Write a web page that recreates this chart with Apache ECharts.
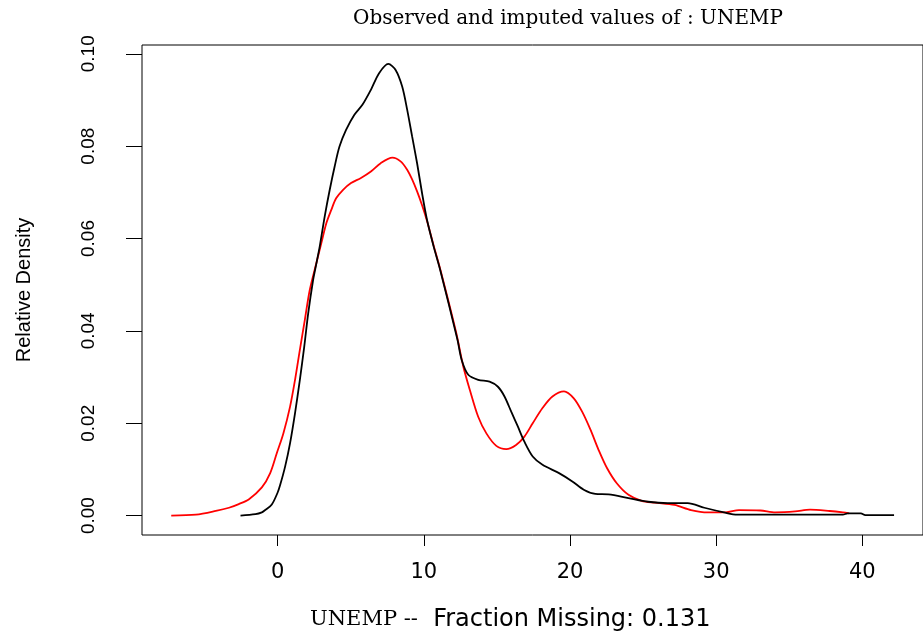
<!DOCTYPE html>
<html>
<head>
<meta charset="utf-8">
<script src="https://cdn.jsdelivr.net/npm/echarts@6/dist/echarts.min.js"></script>
<style>
html,body{margin:0;padding:0;background:#fff;}
#chart{width:923px;height:636px;}
</style>
</head>
<body>
<div id="chart"></div>
<script>
// Observed (black) density curve
const obsX = [-2.54,-1.52,-1.08,-0.85,-0.40,0.0,0.17,0.51,0.85,1.19,1.52,1.82,2.09,2.43,2.58,2.88,3.22,3.56,3.90,4.23,4.68,5.25,5.81,6.38,6.94,7.57,8.07,8.52,8.86,9.20,9.54,9.88,10.22,10.67,11.12,12.3,12.59,13.04,13.72,14.5,15.07,15.52,15.98,16.43,16.88,17.45,18.12,19.25,20.16,20.94,21.73,22.64,24.0,25.35,26.7,28.05,29.19,30.54,31.44,38.67,39.0,39.9,40.2,42.17];
const obsY = [0.0,0.0003,0.0007,0.0012,0.0024,0.0050,0.0066,0.0106,0.0157,0.0222,0.0294,0.0366,0.0438,0.0511,0.0535,0.0583,0.0648,0.0705,0.0756,0.0799,0.0835,0.0868,0.0890,0.0922,0.0958,0.0978,0.0965,0.0929,0.0879,0.0821,0.0763,0.0698,0.0640,0.0583,0.0532,0.0381,0.0337,0.0305,0.0294,0.0290,0.0279,0.0258,0.0225,0.0193,0.0160,0.0128,0.0110,0.0092,0.0074,0.0056,0.0047,0.0046,0.0038,0.0030,0.0027,0.0027,0.0017,0.0007,0.0002,0.0002,0.0005,0.0005,0.0001,0.0001];
// Imputed (red) density curve
const impX = [-7.28,-5.59,-4.23,-3.33,-2.66,-1.98,-1.08,-0.51,-0.06,0.39,0.85,1.19,1.52,1.86,2.2,2.65,2.99,3.33,3.67,4.0,4.46,5.02,5.70,6.38,7.05,7.85,8.41,8.86,9.2,9.54,9.88,10.22,10.67,11.12,12.2,12.7,13.15,13.72,14.28,14.96,15.64,16.31,16.88,17.45,18.12,18.80,19.59,20.26,20.83,21.4,21.96,22.53,23.2,24.0,24.9,25.8,27.15,28.28,29.41,30.65,31.56,33.03,34.05,35.4,36.42,37.77,38.67,39.1];
const impY = [0.0,0.0002,0.0010,0.0017,0.0025,0.0035,0.0061,0.0092,0.0135,0.0178,0.0236,0.0294,0.0359,0.0424,0.0489,0.0547,0.0590,0.0633,0.0662,0.0687,0.0705,0.0720,0.0731,0.0745,0.0763,0.0775,0.0767,0.0749,0.0728,0.0702,0.0672,0.0638,0.0585,0.0534,0.0398,0.0323,0.0272,0.0214,0.0178,0.0151,0.0144,0.0153,0.0171,0.0200,0.0233,0.0258,0.0269,0.0254,0.0225,0.0186,0.0142,0.0103,0.0070,0.0045,0.0032,0.0028,0.0023,0.0012,0.0007,0.0007,0.0012,0.0011,0.0007,0.0009,0.0013,0.0010,0.0007,0.0005];

const xTicks = [0, 10, 20, 30, 40];
const yTicks = [0, 0.02, 0.04, 0.06, 0.08, 0.10];

const titleText = 'Observed and imputed values of : UNEMP';
const xNameVar = 'UNEMP --';
const xNameRest = '  Fraction Missing: 0.131';
const yName = 'Relative Density';

const zip = (xs, ys) => xs.map((x, i) => [x, ys[i]]);

const chart = echarts.init(document.getElementById('chart'), null, {renderer: 'canvas'});
chart.setOption({
  backgroundColor: '#ffffff',
  animation: false,
  title: {
    text: titleText,
    left: 563,
    top: 4,
    textAlign: 'center',
    textStyle: {fontFamily: 'DejaVu Serif', fontSize: 20, fontWeight: 'normal', color: '#000'}
  },
  grid: {
    left: 142, top: 45, width: 789, height: 490,
    show: true, borderColor: '#000', borderWidth: 1, backgroundColor: 'transparent',
    containLabel: false
  },
  xAxis: {
    type: 'value',
    min: -9.28, max: 44.15,
    axisLine: {show: false, onZero: false},
    splitLine: {show: false},
    axisTick: {show: true, customValues: xTicks, length: 11, lineStyle: {color: '#000', width: 1}},
    axisLabel: {customValues: xTicks, margin: 27, color: '#000', fontFamily: 'DejaVu Sans', fontSize: 21}
  },
  yAxis: {
    type: 'value',
    min: -0.0042, max: 0.1019,
    name: yName,
    nameLocation: 'middle',
    nameRotate: 90,
    nameGap: 108,
    nameTextStyle: {fontFamily: 'Liberation Sans', fontSize: 20, color: '#000'},
    axisLine: {show: false, onZero: false},
    splitLine: {show: false},
    axisTick: {show: true, customValues: yTicks, length: 16, lineStyle: {color: '#000', width: 1}},
    axisLabel: {customValues: yTicks, rotate: 90, margin: 44, color: '#000', fontFamily: 'Liberation Sans', fontSize: 19,
      formatter: v => Number(v).toFixed(2)}
  },
  graphic: [{
    type: 'text',
    x: 310, y: 620,
    style: {
      text: '{a|' + xNameVar + '}{b|' + xNameRest + '}',
      verticalAlign: 'middle', align: 'left',
      rich: {
        a: {fontFamily: 'DejaVu Serif', fontSize: 21, fill: '#000'},
        b: {fontFamily: 'DejaVu Sans', fontSize: 24, fill: '#000'}
      }
    }
  }],
  series: [
    {type: 'line', name: 'imputed', data: zip(impX, impY), showSymbol: false, smooth: 0.3,
     lineStyle: {color: '#ff0000', width: 1.8}, itemStyle: {color: '#ff0000'}},
    {type: 'line', name: 'observed', data: zip(obsX, obsY), showSymbol: false, smooth: 0.3,
     lineStyle: {color: '#000000', width: 1.8}, itemStyle: {color: '#000000'}}
  ]
});
</script>
</body>
</html>
